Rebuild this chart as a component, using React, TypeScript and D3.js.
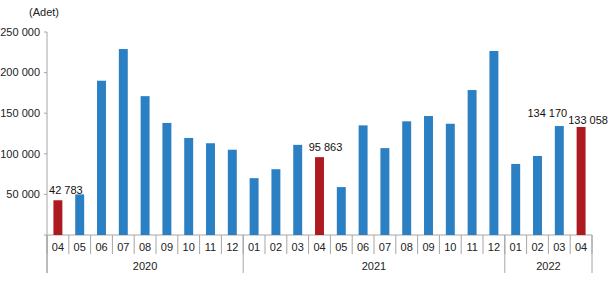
import React, { useRef, useEffect } from 'react';
import * as d3 from 'd3';

const months = ['04', '05', '06', '07', '08', '09', '10', '11', '12',
  '01', '02', '03', '04', '05', '06', '07', '08', '09', '10', '11', '12',
  '01', '02', '03', '04'];
const years = ['2020', '2021', '2022'];
const yearSpans = [9, 12, 4];
const values = [42783, 50000, 190000, 229000, 171000, 138000, 119500, 113000, 105000,
  70000, 81000, 111000, 95863, 59000, 135000, 107000, 140000, 146500, 137000, 178500, 226600,
  87500, 97300, 134170, 133058];
const highlighted = [0, 12, 24];
const labelled = [0, 12, 23, 24];
const yTicks = [0, 50000, 100000, 150000, 200000, 250000];

const fmt = (v: number) => d3.format(',')(v).replace(/,/g, ' ');

const App = () => {
  const ref = useRef<SVGSVGElement>(null);

  useEffect(() => {
    const width = 608;
    const height = 300;
    const m = { left: 47, right: 16, top: 32, bottom: 65 };
    const svg = d3.select(ref.current);
    svg.selectAll('*').remove();
    svg.attr('width', width).attr('height', height)
      .style('font-family', '"Liberation Sans", Arial, sans-serif');

    const x = d3.scaleBand<number>()
      .domain(d3.range(values.length))
      .range([m.left, width - m.right])
      .paddingInner(0.59)
      .paddingOuter(0.295);
    const step = x.step();
    const y = d3.scaleLinear().domain([0, 250000]).range([height - m.bottom, m.top]);
    const y0 = y(0);

    const grey = '#a6a6a6';

    // y axis
    svg.append('line')
      .attr('x1', m.left).attr('x2', m.left)
      .attr('y1', y(250000)).attr('y2', y0 + 38)
      .attr('stroke', grey);
    const yt = svg.append('g');
    yt.selectAll('line').data(yTicks).enter().append('line')
      .attr('x1', m.left - 3).attr('x2', m.left)
      .attr('y1', d => y(d)).attr('y2', d => y(d))
      .attr('stroke', grey);
    yt.selectAll('text').data(yTicks.slice(1)).enter().append('text')
      .attr('x', m.left - 7).attr('y', d => y(d)).attr('dy', '0.35em')
      .attr('text-anchor', 'end').attr('font-size', 11).attr('fill', '#222')
      .text(d => fmt(d));

    svg.append('text')
      .attr('x', 44).attr('y', 16).attr('text-anchor', 'middle')
      .attr('font-size', 11).attr('fill', '#222').text('(Adet)');

    // x axis
    svg.append('line')
      .attr('x1', m.left).attr('x2', width - m.right)
      .attr('y1', y0).attr('y2', y0).attr('stroke', grey);

    const xStart = x.range()[0];
    svg.append('g').selectAll('line').data(d3.range(values.length + 1)).enter().append('line')
      .attr('x1', i => xStart + i * step).attr('x2', i => xStart + i * step)
      .attr('y1', y0).attr('y2', y0 + 19).attr('stroke', grey);

    svg.append('g').selectAll('text').data(months).enter().append('text')
      .attr('x', (d, i) => xStart + (i + 0.5) * step).attr('y', y0 + 16)
      .attr('text-anchor', 'middle').attr('font-size', 11).attr('fill', '#222')
      .text(d => d);

    const cum = [0, ...d3.cumsum(yearSpans)];
    svg.append('g').selectAll('line').data(cum).enter().append('line')
      .attr('x1', c => xStart + c * step).attr('x2', c => xStart + c * step)
      .attr('y1', y0).attr('y2', y0 + 38).attr('stroke', grey);
    svg.append('g').selectAll('text').data(years).enter().append('text')
      .attr('x', (d, i) => xStart + (cum[i] + yearSpans[i] / 2) * step).attr('y', y0 + 35)
      .attr('text-anchor', 'middle').attr('font-size', 11).attr('fill', '#222')
      .text(d => d);

    // bars
    svg.append('g').selectAll('rect').data(values).enter().append('rect')
      .attr('x', (d, i) => x(i)!)
      .attr('width', x.bandwidth())
      .attr('y', d => y(d))
      .attr('height', d => y0 - y(d))
      .attr('fill', (d, i) => highlighted.includes(i) ? '#ad1a1f' : '#2b7fc3');

    // value labels, nudged like the original to keep them apart
    const nudgeX = [8, 6, -12, 7];
    const nudgeY = [-6, -6, -9, -3];
    svg.append('g').selectAll('text').data(labelled).enter().append('text')
      .attr('x', (i, k) => x(i)! + x.bandwidth() / 2 + nudgeX[k])
      .attr('y', (i, k) => y(values[i]) + nudgeY[k])
      .attr('text-anchor', 'middle').attr('font-size', 11).attr('fill', '#111')
      .text(i => fmt(values[i]));
  }, []);

  return <svg ref={ref} style={{ position: 'absolute', left: 0, top: 0 }}></svg>;
};

export default App;
